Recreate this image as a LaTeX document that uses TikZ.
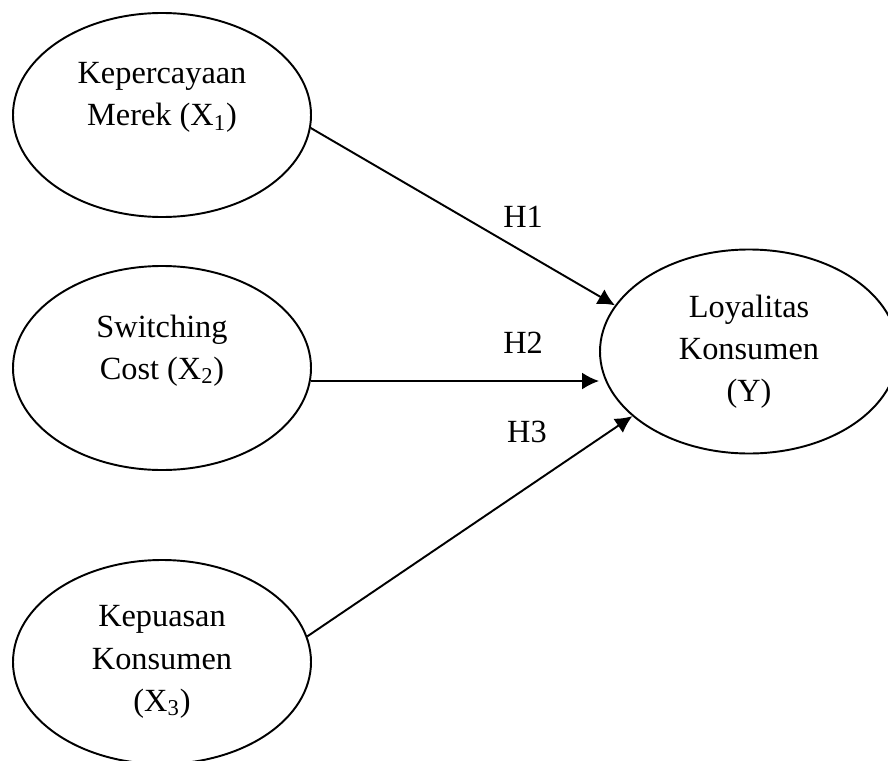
\documentclass[tikz,border=0pt]{standalone}
\usepackage{fontspec}
\setmainfont{Liberation Serif}
\usetikzlibrary{shapes.geometric,arrows.meta}

\begin{document}
\begin{tikzpicture}[
	variabel/.style={draw, ellipse, line width=1.1pt, minimum width=5.96cm, minimum height=4.08cm, align=center},
	panah/.style={-{Latex[length=0.34cm, width=0.34cm]}, line width=1.1pt}]
	\useasboundingbox (0,0) rectangle (17.76,15.2);
	\fontsize{18.4}{24}\selectfont
	
	% Variabel X
	\node (x1) [variabel] at (3.24,12.9) {Kepercayaan\\Merek (X\textsubscript{1})\\\mbox{}};
	\node (x2) [variabel] at (3.24,7.84) {Switching\\Cost (X\textsubscript{2})\\\mbox{}};
	\node (x3) [variabel] at (3.24,1.96) {Kepuasan\\Konsumen\\(X\textsubscript{3})};
	
	% Variabel Y
	\node (y) [variabel] at (14.98,8.17) {Loyalitas\\Konsumen\\(Y)};
	
	% Hipotesis
	\draw[panah] (x1.-5) -- (y.161);
	\draw[panah] (x2.-5) -- (x2.-5 -| y.west);
	\draw[panah] (x3.10) -- (y.209);
	
	\node (h1) at (10.46,10.86) {H1};
	\node (h2) at (10.46,8.34) {H2};
	\node (h3) at (10.54,6.56) {H3};
	
\end{tikzpicture}
\end{document}
